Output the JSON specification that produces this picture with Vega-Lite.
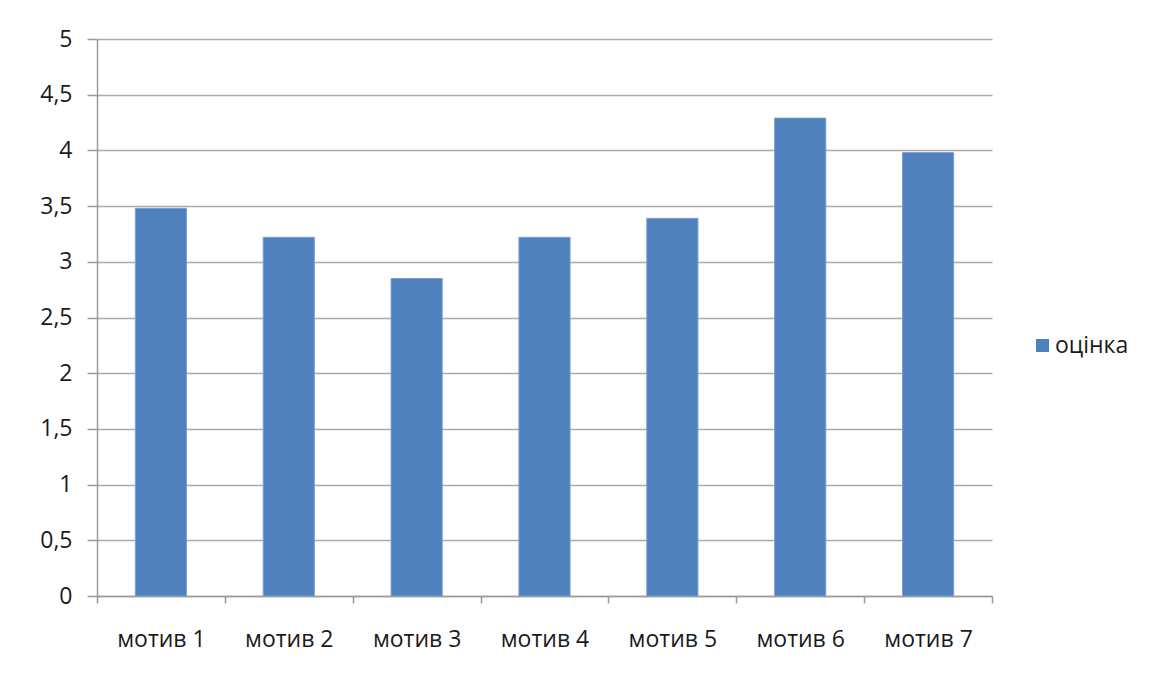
{
  "$schema": "https://vega.github.io/schema/vega-lite/v6.json",
  "width": 895,
  "height": 557,
  "autosize": {"type": "none"},
  "padding": {"left": 97, "top": 39, "right": 159, "bottom": 77},
  "background": "white",
  "data": {
    "values": [
      {"motive": "мотив 1", "score": 3.48},
      {"motive": "мотив 2", "score": 3.22},
      {"motive": "мотив 3", "score": 2.85},
      {"motive": "мотив 4", "score": 3.22},
      {"motive": "мотив 5", "score": 3.39},
      {"motive": "мотив 6", "score": 4.29},
      {"motive": "мотив 7", "score": 3.98}
    ]
  },
  "mark": {"type": "bar", "width": {"band": 0.4}, "stroke": "#7A9FD0", "strokeWidth": 1},
  "encoding": {
    "x": {
      "field": "motive",
      "type": "nominal",
      "sort": null,
      "scale": {"paddingInner": 0, "paddingOuter": 0},
      "axis": {
        "title": null,
        "labelAngle": 0,
        "tickBand": "extent",
        "tickSize": 7,
        "tickColor": "#9A9A9A",
        "tickWidth": 1.5,
        "domainColor": "#9A9A9A",
        "domainWidth": 1.5,
        "labelPadding": 25,
        "labelFontSize": 23,
        "labelFont": "Open Sans",
        "labelColor": "#1A1A1A",
        "grid": false
      }
    },
    "y": {
      "field": "score",
      "type": "quantitative",
      "scale": {"domain": [0, 5], "nice": false},
      "axis": {
        "title": null,
        "values": [0, 0.5, 1, 1.5, 2, 2.5, 3, 3.5, 4, 4.5, 5],
        "format": "~g",
        "labelExpr": "replace(datum.label, '.', ',')",
        "tickSize": 10,
        "tickColor": "#9A9A9A",
        "tickWidth": 1.5,
        "domainColor": "#9A9A9A",
        "domainWidth": 1.5,
        "gridColor": "#ABABAB",
        "gridWidth": 1.5,
        "labelPadding": 15,
        "labelFontSize": 23,
        "labelFont": "Open Sans",
        "labelColor": "#1A1A1A"
      }
    },
    "color": {
      "datum": "оцінка",
      "scale": {"range": ["#4F81BD"]},
      "legend": {
        "title": null,
        "orient": "none",
        "legendX": 934,
        "legendY": 295,
        "symbolType": "square",
        "symbolSize": 169,
        "symbolStrokeWidth": 0,
        "labelFontSize": 23,
        "labelFont": "Open Sans",
        "labelColor": "#1A1A1A",
        "labelOffset": 1
      }
    }
  },
  "config": {"view": {"stroke": null}}
}
